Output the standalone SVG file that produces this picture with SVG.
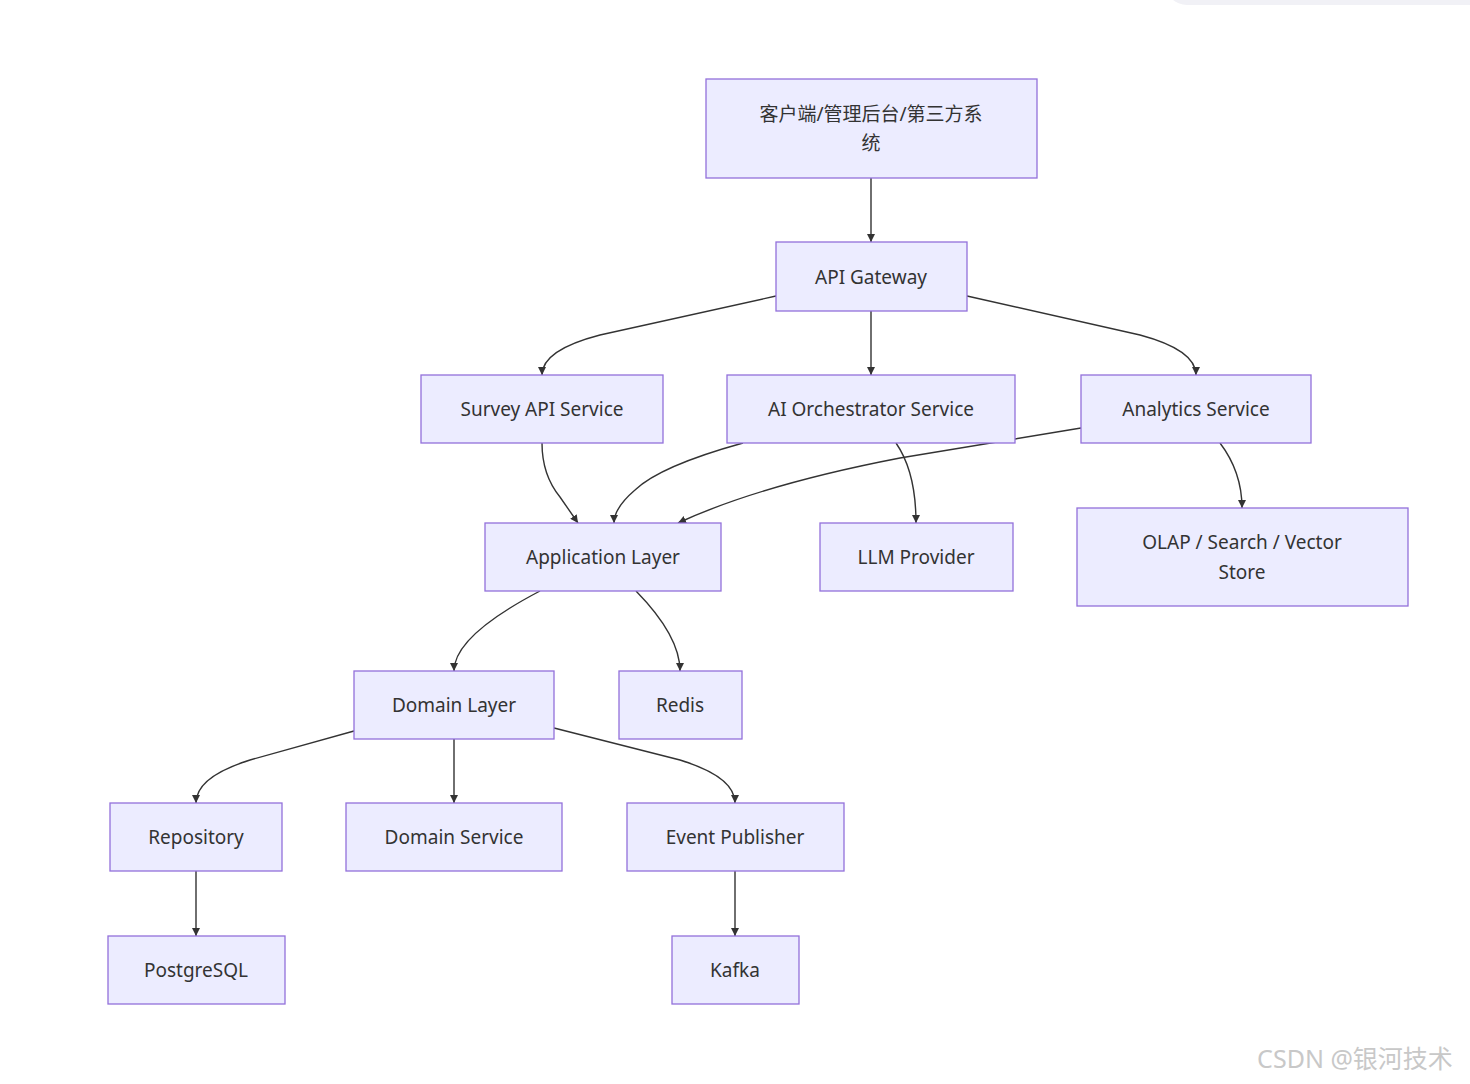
<svg xmlns="http://www.w3.org/2000/svg" width="1470" height="1084" viewBox="0 0 1470 1084">
<style>
.n rect{fill:#ececff;stroke:#9370db;stroke-width:1.3}
.n text,.t{font-family:"Noto Sans","Noto Sans CJK SC",sans-serif;font-size:19px;fill:#333;text-anchor:middle;dominant-baseline:central}
#edges path{fill:none;stroke:#333;stroke-width:1.4;marker-end:url(#a)}
</style>
<defs><marker id="a" viewBox="0 0 10 10" refX="10" refY="5" markerWidth="8" markerHeight="8" orient="auto" markerUnits="userSpaceOnUse"><path d="M0,0L10,5L0,10z" fill="#333"/></marker></defs>
<rect x="0" y="0" width="1470" height="1084" fill="#fff"/>
<rect x="1165" y="-40" width="340" height="45" rx="22" fill="#f1f1f6"/>
<g id="edges">
<path d="M871,178L871,242"/>
<path d="M776,296L600,335Q542,350 542,375"/>
<path d="M871,311L871,375"/>
<path d="M967,296L1140,335Q1196,350 1196,375"/>
<path d="M542,443Q542,475 560,497L578,523"/>
<path d="M743,443Q660,466 635,490Q614,508 614,523"/>
<path d="M1081,428L900,458Q760,485 678,523"/>
<path d="M896,443Q916,472 916,523"/>
<path d="M1220,443Q1242,472 1242,508"/>
<path d="M540,591Q454,636 454,671"/>
<path d="M636,591Q680,636 680,671"/>
<path d="M354,731L250,760Q196,777 196,803"/>
<path d="M454,739L454,803"/>
<path d="M554,728L680,760Q735,777 735,803"/>
<path d="M196,871L196,936"/>
<path d="M735,871L735,936"/>
</g>
<g id="client" class="n"><rect x="706" y="79" width="331" height="99"/><text x="871" y="114">客户端/管理后台/第三方系</text><text x="871" y="143">统</text></g>
<g id="gateway" class="n"><rect x="776" y="242" width="191" height="69"/><text x="871" y="277">API Gateway</text></g>
<g id="survey" class="n"><rect x="421" y="375" width="242" height="68"/><text x="542" y="409">Survey API Service</text></g>
<g id="ai" class="n"><rect x="727" y="375" width="288" height="68"/><text x="871" y="409">AI Orchestrator Service</text></g>
<g id="analytics" class="n"><rect x="1081" y="375" width="230" height="68"/><text x="1196" y="409">Analytics Service</text></g>
<g id="app" class="n"><rect x="485" y="523" width="236" height="68"/><text x="603" y="557">Application Layer</text></g>
<g id="llm" class="n"><rect x="820" y="523" width="193" height="68"/><text x="916" y="557">LLM Provider</text></g>
<g id="olap" class="n"><rect x="1077" y="508" width="331" height="98"/><text x="1242" y="542">OLAP / Search / Vector</text><text x="1242" y="572">Store</text></g>
<g id="domain" class="n"><rect x="354" y="671" width="200" height="68"/><text x="454" y="705">Domain Layer</text></g>
<g id="redis" class="n"><rect x="619" y="671" width="123" height="68"/><text x="680" y="705">Redis</text></g>
<g id="repo" class="n"><rect x="110" y="803" width="172" height="68"/><text x="196" y="837">Repository</text></g>
<g id="dservice" class="n"><rect x="346" y="803" width="216" height="68"/><text x="454" y="837">Domain Service</text></g>
<g id="event" class="n"><rect x="627" y="803" width="217" height="68"/><text x="735" y="837">Event Publisher</text></g>
<g id="pg" class="n"><rect x="108" y="936" width="177" height="68"/><text x="196" y="970">PostgreSQL</text></g>
<g id="kafka" class="n"><rect x="672" y="936" width="127" height="68"/><text x="735" y="970">Kafka</text></g>
<text class="t" x="1355" y="1058" style="font-size:25px;fill:#c8c8c8">CSDN @银河技术</text>
</svg>
